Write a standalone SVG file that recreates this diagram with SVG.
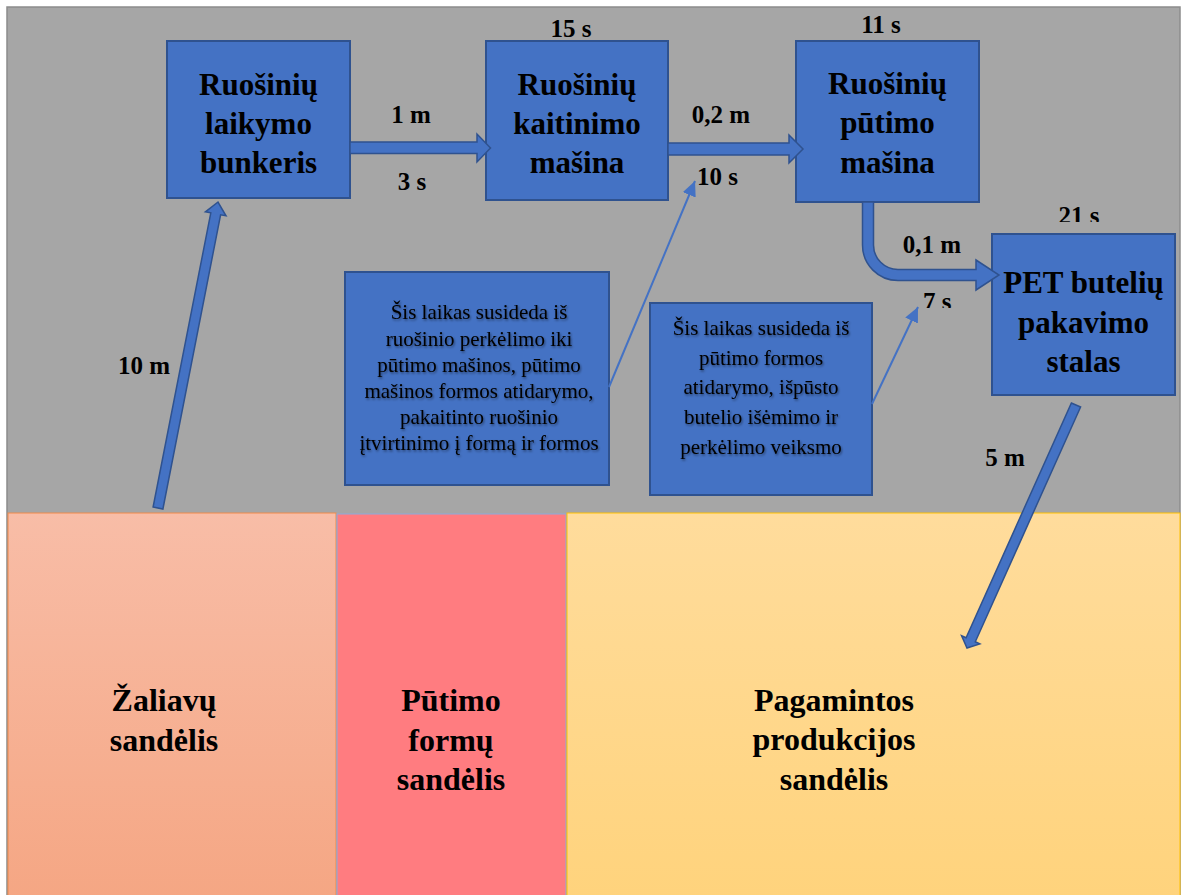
<svg xmlns="http://www.w3.org/2000/svg" width="1182" height="895" viewBox="0 0 1182 895">
<defs>
<style>
.box{fill:#4472c4;stroke:#2f528f;stroke-width:2}
.barrow{fill:#4472c4;stroke:#2f528f;stroke-width:1.5;stroke-linejoin:miter}
.thin{stroke:#4472c4;stroke-width:2;fill:none}
text{font-family:'Liberation Serif','DejaVu Serif',serif;fill:#000;text-anchor:middle}
.lbl{font-weight:bold;font-size:31px}
.big{font-weight:bold;font-size:32px}
.sm{font-weight:bold;font-size:25px}
.note{font-size:21px}
</style>
<linearGradient id="gL" x1="0" y1="0" x2="0" y2="1">
<stop offset="0" stop-color="#f8bda7"/>
<stop offset="1" stop-color="#f5a683"/>
</linearGradient>
<linearGradient id="gR" x1="0" y1="0" x2="0" y2="1">
<stop offset="0" stop-color="#ffdc9c"/>
<stop offset="1" stop-color="#ffd37c"/>
</linearGradient>
<filter id="sh" x="-10%" y="-10%" width="120%" height="130%">
<feDropShadow dx="1" dy="1.5" stdDeviation="1" flood-color="#000" flood-opacity="0.45"/>
</filter>
<marker id="ah" markerUnits="userSpaceOnUse" markerWidth="16" markerHeight="14" refX="15" refY="7" orient="auto">
<path d="M0,0 L15,7 L0,14 Z" fill="#4472c4"/>
</marker>
<clipPath id="c21"><rect x="1040" y="195" width="80" height="27"/></clipPath>
<clipPath id="c7"><rect x="910" y="280" width="60" height="28"/></clipPath>
</defs>

<g id="background">
<rect x="7" y="7" width="1173" height="900" fill="#a6a6a6" stroke="#8c8c8c" stroke-width="1.5"/>
</g>

<g id="zaliavu-sandelis">
<rect x="8" y="513" width="328" height="390" fill="url(#gL)" stroke="#f08a4b" stroke-width="1"/>
<text class="big" x="164" y="711">Žaliavų</text>
<text class="big" x="164" y="751">sandėlis</text>
</g>
<g id="putimo-formu-sandelis">
<rect x="337" y="514" width="229" height="390" fill="#ff7c80" stroke="#8eaadb" stroke-width="1"/>
<text class="big" x="451" y="711">Pūtimo</text>
<text class="big" x="451" y="751">formų</text>
<text class="big" x="451" y="790">sandėlis</text>
</g>
<g id="pagamintos-produkcijos-sandelis">
<rect x="567" y="513" width="613" height="390" fill="url(#gR)" stroke="#ffc000" stroke-width="1"/>
<text class="big" x="834" y="711">Pagamintos</text>
<text class="big" x="834" y="750">produkcijos</text>
<text class="big" x="834" y="790">sandėlis</text>
</g>

<g id="bunkeris">
<rect class="box" x="167" y="41" width="183" height="157"/>
<text class="lbl" x="258.5" y="95">Ruošinių</text>
<text class="lbl" x="258.5" y="134">laikymo</text>
<text class="lbl" x="258.5" y="173">bunkeris</text>
</g>
<g id="kaitinimo-masina">
<rect class="box" x="486" y="41" width="182" height="159"/>
<text class="lbl" x="577" y="95">Ruošinių</text>
<text class="lbl" x="577" y="134">kaitinimo</text>
<text class="lbl" x="577" y="173">mašina</text>
</g>
<g id="putimo-masina">
<rect class="box" x="796" y="41" width="183" height="161"/>
<text class="lbl" x="887.5" y="94">Ruošinių</text>
<text class="lbl" x="887.5" y="133">pūtimo</text>
<text class="lbl" x="887.5" y="173">mašina</text>
</g>
<g id="pakavimo-stalas">
<rect class="box" x="992" y="234" width="183" height="161"/>
<text class="lbl" x="1083.5" y="293">PET butelių</text>
<text class="lbl" x="1083.5" y="333">pakavimo</text>
<text class="lbl" x="1083.5" y="372">stalas</text>
</g>

<g id="note-1">
<rect class="box" x="345" y="272" width="264" height="213"/>
<g filter="url(#sh)">
<text class="note" x="479" y="319">Šis laikas susideda iš</text>
<text class="note" x="479" y="346">ruošinio perkėlimo iki</text>
<text class="note" x="479" y="372">pūtimo mašinos, pūtimo</text>
<text class="note" x="479" y="398">mašinos formos atidarymo,</text>
<text class="note" x="479" y="424">pakaitinto ruošinio</text>
<text class="note" x="479" y="450">įtvirtinimo į formą ir formos</text>
</g>
</g>
<g id="note-2">
<rect class="box" x="650" y="303" width="222" height="192"/>
<g filter="url(#sh)">
<text class="note" x="761" y="335">Šis laikas susideda iš</text>
<text class="note" x="761" y="364.5">pūtimo formos</text>
<text class="note" x="761" y="394">atidarymo, išpūsto</text>
<text class="note" x="761" y="424">butelio išėmimo ir</text>
<text class="note" x="761" y="454">perkėlimo veiksmo</text>
</g>
</g>

<g id="connectors">
<polygon class="barrow" points="153.1,507 162.9,509 220.6,214.8 226,215.8 218,202 205.4,211.8 210.8,212.8"/>
<polygon class="barrow" points="350,142 477,142 477,134 490.5,148 477,162 477,153.5 350,153.5"/>
<polygon class="barrow" points="668,143 789,143 789,135 803,149 789,163 789,155 668,155"/>
<path class="barrow" d="M862.5,202 L862.5,245 A35.5,35.5 0 0 0 898,280.5 L976,280.5 L976,290 L999,275 L976,260 L976,269.5 L898,269.5 A24.5,24.5 0 0 1 873.5,245 L873.5,202 Z"/>
<polygon class="barrow" points="1080.6,407 1071.4,403 966.1,637.8 961.6,635.7 967,648 979.8,643.9 975.3,641.8"/>
<line class="thin" x1="609" y1="387" x2="695" y2="181" marker-end="url(#ah)"/>
<line class="thin" x1="872" y1="404" x2="918" y2="307" marker-end="url(#ah)"/>
</g>

<g id="labels">
<text class="sm" x="571" y="37">15 s</text>
<text class="sm" x="881" y="33">11 s</text>
<text class="sm" x="1079" y="224" clip-path="url(#c21)">21 s</text>
<text class="sm" x="411" y="123">1 m</text>
<text class="sm" x="412" y="190">3 s</text>
<text class="sm" x="721" y="123">0,2 m</text>
<text class="sm" x="697" y="185" style="text-anchor:start">10 s</text>
<text class="sm" x="932" y="253">0,1 m</text>
<text class="sm" x="923" y="310" style="text-anchor:start" clip-path="url(#c7)">7 s</text>
<text class="sm" x="144" y="374">10 m</text>
<text class="sm" x="1005" y="466">5 m</text>
</g>
</svg>
